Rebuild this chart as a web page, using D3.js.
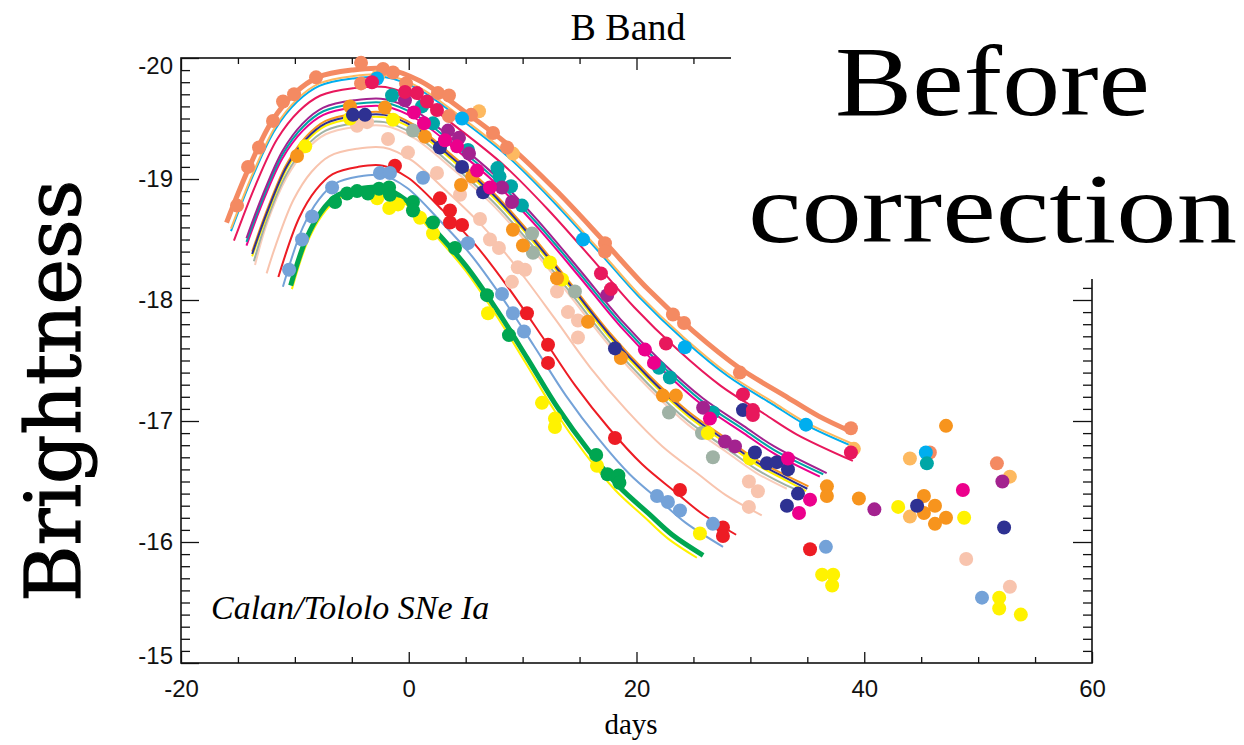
<!DOCTYPE html>
<html>
<head>
<meta charset="utf-8">
<script src="https://cdn.jsdelivr.net/npm/d3@7"></script>
<style>
  body { margin: 0; background: #fff; }
</style>
</head>
<body>
<script>
// ---- DATA (days since max, B magnitude) ----

// axis ticks
const xTicks = [-20, 0, 20, 40, 60];
const xMinor = [-15, -10, -5, 5, 10, 15, 25, 30, 35, 45, 50, 55];
const yTicks = [-20, -19, -18, -17, -16, -15];

// fitted template curves
const fitSalmon = [[-16,-18.64],[-14,-19.10],[-12,-19.48],[-10,-19.71],[-8,-19.84],[-5,-19.90],[-2,-19.91],[1,-19.81],[5,-19.55],[9,-19.26],[13,-18.90],[17,-18.50],[21,-18.09],[25,-17.74],[29,-17.44],[33,-17.21],[36,-17.04],[38.9,-16.91]];
const fitLightOrange = [[-15.61,-18.59],[-13.67,-19.05],[-11.73,-19.43],[-9.79,-19.66],[-7.85,-19.79],[-4.94,-19.85],[-2.03,-19.86],[0.88,-19.76],[4.76,-19.50],[8.64,-19.21],[12.52,-18.85],[16.40,-18.45],[20.28,-18.04],[24.16,-17.69],[28.04,-17.39],[31.92,-17.16],[34.83,-16.99],[39.0,-16.81]];
const fitCyan = [[-15.61,-18.57],[-13.67,-19.03],[-11.73,-19.41],[-9.79,-19.64],[-7.85,-19.77],[-4.94,-19.83],[-2.03,-19.84],[0.88,-19.74],[4.76,-19.48],[8.64,-19.19],[12.52,-18.83],[16.40,-18.43],[20.28,-18.02],[24.16,-17.67],[28.04,-17.37],[31.92,-17.14],[34.83,-16.97],[39.0,-16.79]];
const fitCrimson = [[-15.35,-18.49],[-13.45,-18.95],[-11.55,-19.33],[-9.65,-19.56],[-7.75,-19.69],[-4.9,-19.75],[-2.05,-19.76],[0.8,-19.66],[4.6,-19.40],[8.4,-19.11],[12.2,-18.75],[16.0,-18.35],[19.8,-17.94],[23.6,-17.59],[27.4,-17.29],[31.2,-17.06],[34.05,-16.89],[39.0,-16.67]];
const fitPurple = [[-14.25,-18.51],[-12.9,-18.85],[-11.1,-19.23],[-9.3,-19.46],[-7.5,-19.59],[-4.8,-19.65],[-2.1,-19.66],[0.6,-19.56],[4.2,-19.30],[7.8,-19.01],[11.4,-18.65],[15.0,-18.25],[18.6,-17.84],[22.2,-17.49],[25.8,-17.19],[29.4,-16.96],[32.1,-16.79],[36.7,-16.57]];
const fitTeal = [[-14.25,-18.48],[-12.9,-18.82],[-11.1,-19.20],[-9.3,-19.43],[-7.5,-19.56],[-4.8,-19.62],[-2.1,-19.63],[0.6,-19.53],[4.2,-19.27],[7.8,-18.98],[11.4,-18.62],[15.0,-18.22],[18.6,-17.81],[22.2,-17.46],[25.8,-17.16],[29.4,-16.93],[32.1,-16.76],[36.4,-16.56]];
const fitMagenta = [[-14.25,-18.45],[-12.9,-18.79],[-11.1,-19.17],[-9.3,-19.40],[-7.5,-19.53],[-4.8,-19.59],[-2.1,-19.60],[0.6,-19.50],[4.2,-19.24],[7.8,-18.95],[11.4,-18.59],[15.0,-18.19],[18.6,-17.78],[22.2,-17.43],[25.8,-17.13],[29.4,-16.90],[32.1,-16.73],[36.1,-16.54]];
const fitNavy = [[-13.75,-18.38],[-12.46,-18.72],[-10.74,-19.10],[-9.02,-19.33],[-7.3,-19.46],[-4.72,-19.52],[-2.14,-19.53],[0.44,-19.43],[3.88,-19.17],[7.32,-18.88],[10.76,-18.52],[14.2,-18.12],[17.64,-17.71],[21.08,-17.36],[24.52,-17.06],[27.96,-16.83],[30.54,-16.66],[33.12,-16.53],[35.0,-16.44]];
const fitOrange = [[-13.75,-18.40],[-12.46,-18.74],[-10.74,-19.12],[-9.02,-19.35],[-7.3,-19.48],[-4.72,-19.54],[-2.14,-19.55],[0.44,-19.45],[3.88,-19.19],[7.32,-18.90],[10.76,-18.54],[14.2,-18.14],[17.64,-17.73],[21.08,-17.38],[24.52,-17.08],[27.96,-16.85],[30.54,-16.68],[33.12,-16.55],[35.1,-16.46]];
const fitYellowA = [[-13.75,-18.36],[-12.46,-18.70],[-10.74,-19.08],[-9.02,-19.31],[-7.3,-19.44],[-4.72,-19.50],[-2.14,-19.51],[0.44,-19.41],[3.88,-19.15],[7.32,-18.86],[10.76,-18.50],[14.2,-18.10],[17.64,-17.69],[21.08,-17.34],[24.52,-17.04],[27.96,-16.81],[30.54,-16.64],[33.12,-16.51],[34.9,-16.42]];
const fitGray = [[-13.6,-18.32],[-12.46,-18.66],[-10.74,-19.04],[-9.02,-19.27],[-7.3,-19.40],[-4.72,-19.46],[-2.14,-19.47],[0.44,-19.37],[3.88,-19.11],[7.32,-18.82],[10.76,-18.46],[14.2,-18.06],[17.64,-17.65],[21.08,-17.30],[24.52,-17.00],[27.96,-16.77],[30.54,-16.60],[33.12,-16.47],[34.6,-16.41]];
const fitPalePeach = [[-13.5,-18.29],[-12.46,-18.63],[-10.74,-19.01],[-9.02,-19.24],[-7.3,-19.37],[-4.72,-19.43],[-2.14,-19.44],[0.44,-19.34],[3.88,-19.08],[7.32,-18.79],[10.76,-18.43],[14.2,-18.03],[17.64,-17.62],[21.08,-17.27],[24.52,-16.97],[27.96,-16.74],[30.54,-16.57],[33.2,-16.44]];
const fitPeach = [[-12.48,-18.22],[-11.69,-18.45],[-10.11,-18.83],[-8.53,-19.06],[-6.95,-19.19],[-4.58,-19.25],[-2.21,-19.26],[0.16,-19.16],[3.32,-18.90],[6.48,-18.61],[9.64,-18.25],[12.8,-17.85],[15.96,-17.44],[19.12,-17.09],[22.28,-16.79],[25.44,-16.56],[27.81,-16.39],[31.0,-16.22]];
const fitRed = [[-11.45,-18.19],[-9.62,-18.68],[-8.15,-18.91],[-6.68,-19.04],[-4.47,-19.10],[-2.27,-19.11],[-0.06,-19.01],[2.88,-18.75],[5.82,-18.46],[8.76,-18.10],[11.7,-17.70],[14.64,-17.29],[17.58,-16.94],[20.52,-16.64],[23.46,-16.41],[25.67,-16.24],[28.75,-16.06]];
const fitLightBlue = [[-11.05,-18.11],[-9.3,-18.60],[-7.9,-18.83],[-6.5,-18.96],[-4.4,-19.02],[-2.3,-19.03],[-0.2,-18.93],[2.6,-18.67],[5.4,-18.38],[8.2,-18.02],[11.0,-17.62],[13.8,-17.21],[16.6,-16.86],[19.4,-16.56],[22.2,-16.33],[24.3,-16.16],[27.6,-15.96]];
const fitGreen = [[-10.37,-18.12],[-9.03,-18.50],[-7.69,-18.73],[-6.35,-18.86],[-4.34,-18.92],[-2.33,-18.93],[-0.32,-18.83],[2.36,-18.57],[5.04,-18.28],[7.72,-17.92],[10.4,-17.52],[13.08,-17.11],[15.76,-16.76],[18.44,-16.46],[21.12,-16.23],[23.13,-16.06],[25.85,-15.89]];
const fitYellowB = [[-10.26,-18.09],[-8.94,-18.47],[-7.62,-18.70],[-6.3,-18.83],[-4.32,-18.89],[-2.34,-18.90],[-0.36,-18.80],[2.28,-18.54],[4.92,-18.25],[7.56,-17.89],[10.2,-17.49],[12.84,-17.08],[15.48,-16.73],[18.12,-16.43],[20.76,-16.20],[22.74,-16.03],[25.3,-15.87]];

// observed points
const ptsSalmon = [[-15.08,-18.78],[-14.11,-19.10],[-13.15,-19.26],[-11.92,-19.48],[-11.04,-19.64],[-10.07,-19.70],[-8.14,-19.84],[-4.19,-19.96],[-4.19,-19.79],[-2.26,-19.91],[-1.38,-19.88],[-0.24,-19.79],[2.57,-19.71],[3.53,-19.69],[3.53,-19.52],[5.47,-19.53],[7.40,-19.38],[8.63,-19.26],[17.23,-18.47],[17.23,-18.40],[23.20,-17.88],[24.17,-17.81],[29.08,-17.40],[38.83,-16.94],[45.76,-16.74],[51.65,-16.65]];
const ptsLightOrange = [[-2.70,-19.85],[6.17,-19.56],[9.15,-19.21],[39.09,-16.77],[44.01,-16.69],[44.01,-16.21],[52.79,-16.54]];
const ptsCyan = [[-2.79,-19.83],[4.68,-19.50],[15.30,-18.50],[24.25,-17.61],[34.88,-16.97],[45.41,-16.74]];
const ptsCrimson = [[-3.23,-19.80],[-0.33,-19.72],[0.72,-19.71],[1.60,-19.64],[2.48,-19.57],[16.88,-18.22],[17.76,-18.09],[22.59,-17.64],[29.35,-17.22],[30.22,-17.09],[30.22,-17.05],[38.83,-16.74]];
const ptsPurple = [[-0.33,-19.65],[3.45,-19.40],[4.41,-19.34],[5.29,-19.21],[8.19,-18.93],[9.07,-18.81],[17.43,-18.04],[25.85,-17.11],[27.77,-16.83],[28.65,-16.79],[40.89,-16.27],[52.13,-16.50]];
const ptsTeal = [[-1.47,-19.69],[1.16,-19.60],[2.13,-19.46],[5.20,-19.24],[7.79,-19.09],[7.97,-19.02],[8.98,-18.94],[9.94,-18.78],[21.97,-17.44],[22.93,-17.36],[26.71,-17.07],[45.50,-16.65]];
const ptsMagenta = [[0.46,-19.55],[1.34,-19.46],[3.18,-19.32],[4.24,-19.27],[6.00,-19.07],[7.13,-18.93],[20.74,-17.59],[21.53,-17.48],[26.45,-17.02],[33.30,-16.69],[35.24,-16.35],[34.27,-16.24],[48.66,-16.43]];
const ptsNavy = [[-4.90,-19.53],[-3.84,-19.53],[2.74,-19.26],[4.68,-19.10],[6.53,-18.89],[18.11,-17.60],[29.35,-17.09],[30.40,-16.74],[31.45,-16.65],[32.33,-16.66],[33.30,-16.60],[34.18,-16.40],[33.21,-16.30],[44.64,-16.30],[52.28,-16.12]];
const ptsOrange = [[-9.81,-19.19],[-5.16,-19.60],[-2.09,-19.59],[1.43,-19.35],[4.59,-18.95],[5.57,-19.02],[9.15,-18.58],[10.03,-18.45],[13.02,-18.18],[15.74,-17.82],[18.63,-17.52],[22.32,-17.21],[23.46,-17.21],[36.72,-16.46],[36.72,-16.38],[39.53,-16.36],[45.24,-16.38],[45.24,-16.24],[46.21,-16.30],[46.21,-16.15],[47.18,-16.20],[47.18,-16.96]];
const ptsYellow = [[-9.09,-19.27],[-5.16,-19.50],[-1.38,-19.49],[12.40,-18.31],[13.46,-18.17],[26.27,-16.90],[29.96,-16.69],[-2.77,-18.84],[-1.71,-18.76],[-0.94,-18.79],[0.99,-18.68],[2.13,-18.55],[6.96,-17.89],[11.70,-17.15],[12.84,-17.02],[12.84,-16.95],[16.53,-16.63],[25.57,-16.07],[36.30,-15.73],[37.27,-15.73],[37.18,-15.64],[42.98,-16.29],[48.77,-16.20],[51.85,-15.54],[51.85,-15.45],[53.75,-15.40]];
const ptsGray = [[0.37,-19.40],[10.83,-18.55],[10.91,-18.39],[14.59,-18.07],[22.85,-17.07],[25.75,-16.90],[26.71,-16.70]];
const ptsPeach = [[-4.54,-19.44],[-3.66,-19.47],[-1.82,-19.33],[-0.07,-19.22],[2.48,-19.05],[4.50,-18.87],[6.26,-18.67],[7.13,-18.50],[7.92,-18.43],[9.57,-18.27],[10.21,-18.25],[9.06,-18.15],[13.02,-18.07],[13.98,-17.90],[14.86,-17.83],[14.86,-17.69],[29.87,-16.50],[30.66,-16.42],[29.87,-16.29],[48.95,-15.86],[52.79,-15.63]];
const ptsRed = [[-1.21,-19.11],[2.74,-18.84],[3.62,-18.74],[3.62,-18.64],[4.68,-18.62],[10.38,-17.89],[12.23,-17.63],[12.23,-17.48],[18.11,-16.86],[23.82,-16.43],[27.59,-16.12],[27.59,-16.05],[35.24,-15.94]];
const ptsLightBlue = [[-10.51,-18.25],[-9.37,-18.50],[-8.49,-18.69],[-6.73,-18.93],[-2.53,-19.05],[-1.65,-19.05],[1.25,-19.01],[5.20,-18.47],[8.19,-18.05],[9.15,-17.89],[10.12,-17.74],[21.80,-16.38],[22.76,-16.33],[23.82,-16.26],[26.71,-16.15],[36.63,-15.96],[50.34,-15.54]];
const ptsGreen = [[-6.47,-18.81],[-5.42,-18.88],[-4.54,-18.90],[-3.58,-18.88],[-2.61,-18.92],[-1.73,-18.93],[-1.65,-18.87],[0.37,-18.81],[0.37,-18.74],[2.13,-18.64],[4.06,-18.43],[6.87,-18.04],[8.80,-17.71],[16.46,-16.72],[17.45,-16.56],[18.41,-16.55],[18.50,-16.49]];

// ---- STYLE ----
const C = {
  salmon: '#f48a62', lightOrange: '#fdb960', cyan: '#00aeef', crimson: '#e8185c',
  purple: '#a3228f', teal: '#00a6a6', magenta: '#ec008c', navy: '#2e3192',
  orange: '#f7941d', yellow: '#fff200', gray: '#9fb2a5', palePeach: '#f9cdbb',
  peach: '#f8c4ae', red: '#ed1c24', lightBlue: '#74a2d8', green: '#00a651'
};

const thinCurves = [
  [fitPeach, C.peach], [fitPalePeach, C.palePeach], [fitGray, C.gray],
  [fitYellowA, C.yellow], [fitOrange, C.orange], [fitNavy, C.navy],
  [fitMagenta, C.magenta], [fitTeal, C.teal], [fitPurple, C.purple],
  [fitCrimson, C.crimson], [fitCyan, C.cyan], [fitLightOrange, C.lightOrange],
  [fitRed, C.red], [fitLightBlue, C.lightBlue], [fitYellowB, C.yellow]
];
const thickCurves = [[fitGreen, C.green], [fitSalmon, C.salmon]];

const pointSets = [
  [ptsPeach, C.peach], [ptsGray, C.gray], [ptsYellow, C.yellow], [ptsOrange, C.orange],
  [ptsLightOrange, C.lightOrange], [ptsSalmon, C.salmon], [ptsCyan, C.cyan],
  [ptsTeal, C.teal], [ptsNavy, C.navy], [ptsPurple, C.purple], [ptsMagenta, C.magenta],
  [ptsCrimson, C.crimson], [ptsRed, C.red], [ptsLightBlue, C.lightBlue], [ptsGreen, C.green]
];

// ---- SVG ----
const W = 1244, H = 745;
const svg = d3.select('body').append('svg')
  .attr('width', W).attr('height', H);

const x = d3.scaleLinear().domain([-20, 60]).range([181, 1092]);
const y = d3.scaleLinear().domain([-20, -15]).range([58, 663]);

const yMinor = d3.range(-19.9, -15.05, 0.1).filter(v => Math.abs(v - Math.round(v)) > 0.01);
const sans = 'Liberation Sans, Arial, sans-serif';
const serif = 'Liberation Serif, Times New Roman, serif';

// AXES
function clean(g) {
  g.select('.domain').remove();
  g.selectAll('line').attr('stroke', '#111').attr('stroke-width', 1.3);
}

svg.append('g').attr('transform', 'translate(181,0)')
  .call(d3.axisLeft(y).tickValues(yMinor).tickSize(-9).tickFormat(''))
  .call(clean);
const yAxis = svg.append('g').attr('transform', 'translate(181,0)')
  .call(d3.axisLeft(y).tickValues(yTicks).tickSize(-18).tickPadding(8).tickFormat(d => String(d)))
  .call(clean);
yAxis.selectAll('text').attr('font-family', sans).attr('font-size', 24).attr('fill', '#111');
yAxis.selectAll('.tick text').filter(d => d === -20).attr('transform', 'translate(0,8)');
yAxis.selectAll('.tick text').filter(d => d === -15).attr('transform', 'translate(0,-7)');

svg.append('g').attr('transform', 'translate(1092,0)')
  .call(d3.axisRight(y).tickValues(yMinor).tickSize(-9).tickFormat(''))
  .call(clean);
svg.append('g').attr('transform', 'translate(1092,0)')
  .call(d3.axisRight(y).tickValues([-19, -18, -17, -16]).tickSize(-19).tickFormat(''))
  .call(clean);

svg.append('g').attr('transform', 'translate(0,663)')
  .call(d3.axisBottom(x).tickValues(xMinor).tickSize(-6).tickFormat(''))
  .call(clean);
const xAxis = svg.append('g').attr('transform', 'translate(0,663)')
  .call(d3.axisBottom(x).tickValues(xTicks).tickSize(-11).tickPadding(17).tickFormat(d => String(d)))
  .call(clean);
xAxis.selectAll('text').attr('font-family', sans).attr('font-size', 24).attr('fill', '#111');

svg.append('g').attr('transform', 'translate(0,58)')
  .call(d3.axisTop(x).tickValues(xMinor).tickSize(-6).tickFormat(''))
  .call(clean);
svg.append('g').attr('transform', 'translate(0,58)')
  .call(d3.axisTop(x).tickValues(xTicks).tickSize(-12).tickFormat(''))
  .call(clean);

svg.append('rect')
  .attr('x', x(-20)).attr('y', y(-20))
  .attr('width', x(60) - x(-20)).attr('height', y(-15) - y(-20))
  .attr('fill', 'none').attr('stroke', '#111').attr('stroke-width', 1.6);

// CURVES
const line = d3.line()
  .x(d => x(d[0]))
  .y(d => y(d[1]))
  .curve(d3.curveCatmullRom);

thinCurves.forEach(([data, color]) => {
  svg.append('path').datum(data).attr('d', line)
    .attr('fill', 'none').attr('stroke', color).attr('stroke-width', 2);
});
thickCurves.forEach(([data, color]) => {
  svg.append('path').datum(data).attr('d', line)
    .attr('fill', 'none').attr('stroke', color).attr('stroke-width', 5);
});

// POINTS
pointSets.forEach(([data, color]) => {
  svg.append('g').selectAll('circle')
    .data(data)
    .enter()
    .append('circle')
    .attr('cx', d => x(d[0]))
    .attr('cy', d => y(d[1]))
    .attr('r', 7)
    .attr('fill', color);
});

// LABELS
svg.append('text').text('B Band')
  .attr('x', 628).attr('y', 40).attr('text-anchor', 'middle')
  .attr('font-family', serif).attr('font-size', 38);

svg.append('text').text('days')
  .attr('x', 631).attr('y', 734).attr('text-anchor', 'middle')
  .attr('font-family', serif).attr('font-size', 29);

svg.append('text').text('Calan/Tololo SNe Ia')
  .attr('x', 211).attr('y', 619)
  .attr('font-family', serif).attr('font-style', 'italic').attr('font-size', 34);

svg.append('text').text('Brightness')
  .attr('transform', 'translate(80,391) rotate(-90)')
  .attr('text-anchor', 'middle')
  .style('font-family', "'DejaVu Serif', serif")
  .attr('font-size', 77)
  .attr('stroke', '#000').attr('stroke-width', 1.2);

// white box hiding the upper right corner of the frame
svg.append('rect')
  .attr('x', 731).attr('y', 0).attr('width', W - 731).attr('height', 279)
  .attr('fill', '#fff');

svg.append('text').text('Before')
  .attr('x', 835).attr('y', 115)
  .attr('textLength', 315).attr('lengthAdjust', 'spacingAndGlyphs')
  .attr('font-family', serif).attr('font-size', 100);

svg.append('text').text('correction')
  .attr('x', 748).attr('y', 242)
  .attr('textLength', 489).attr('lengthAdjust', 'spacingAndGlyphs')
  .attr('font-family', serif).attr('font-size', 100);
</script>
</body>
</html>
